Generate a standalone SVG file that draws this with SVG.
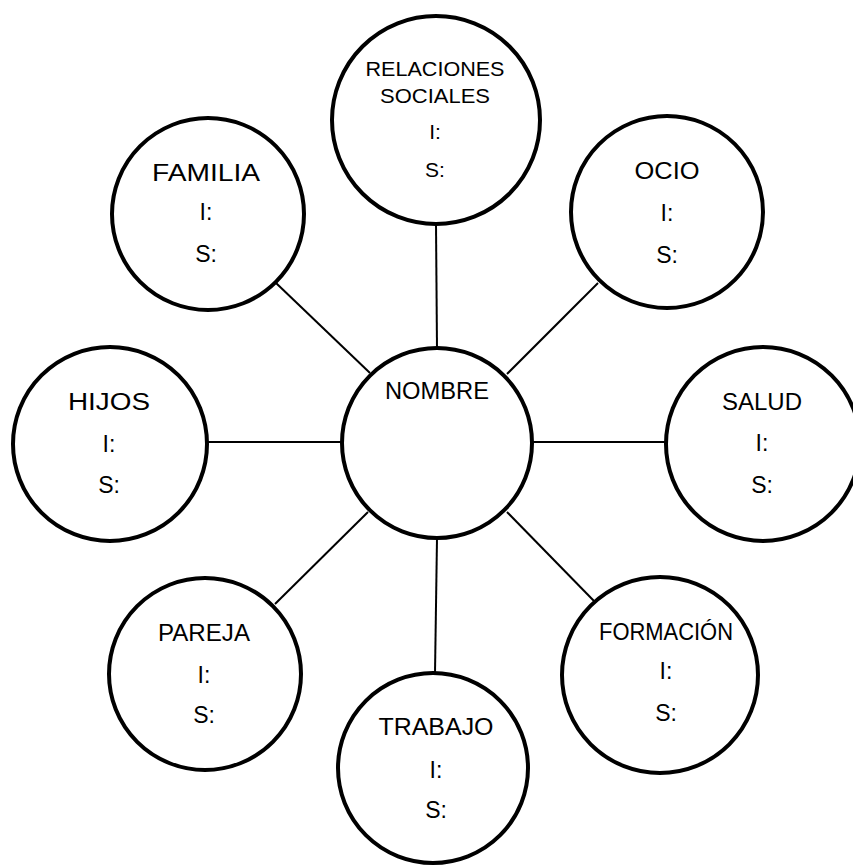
<svg xmlns="http://www.w3.org/2000/svg" width="853" height="868" viewBox="0 0 853 868">
  <style>
    .node circle { fill: #ffffff; stroke: #000000; stroke-width: 4; }
    .links line { stroke: #000000; stroke-width: 2; }
    text { font-family: "Comic Sans MS", "Liberation Sans", "DejaVu Sans", sans-serif; font-size: 23px; fill: #000000; text-anchor: middle; }
    .small { font-size: 21px; }
  </style>
  <rect width="853" height="868" fill="#ffffff"/>

  <!-- spokes from the centre to each surrounding circle -->
  <g id="connectors" class="links">
    <line x1="436" y1="224" x2="437" y2="348"/>
    <line x1="276" y1="283" x2="370" y2="373"/>
    <line x1="598" y1="283" x2="507" y2="374"/>
    <line x1="207" y1="442" x2="342" y2="442"/>
    <line x1="532" y1="442" x2="666" y2="442"/>
    <line x1="275" y1="604" x2="368" y2="512"/>
    <line x1="507" y1="512" x2="594" y2="601"/>
    <line x1="437" y1="538" x2="435" y2="673"/>
  </g>

  <g id="nombre" class="node">
    <circle cx="437" cy="443" r="95"/>
    <text x="437" y="399" textLength="104" lengthAdjust="spacingAndGlyphs">NOMBRE</text>
  </g>

  <g id="relaciones-sociales" class="node">
    <circle cx="436" cy="120" r="104"/>
    <text class="small" x="435" y="76" textLength="139" lengthAdjust="spacingAndGlyphs">RELACIONES</text>
    <text class="small" x="435" y="103" textLength="110" lengthAdjust="spacingAndGlyphs">SOCIALES</text>
    <text class="small" x="435" y="139">I:</text>
    <text class="small" x="435" y="177">S:</text>
  </g>

  <g id="familia" class="node">
    <circle cx="208" cy="214" r="96"/>
    <text x="206" y="181" textLength="108" lengthAdjust="spacingAndGlyphs">FAMILIA</text>
    <text x="206" y="220">I:</text>
    <text x="206" y="262">S:</text>
  </g>

  <g id="ocio" class="node">
    <circle cx="667" cy="212" r="96"/>
    <text x="667" y="179" textLength="65" lengthAdjust="spacingAndGlyphs">OCIO</text>
    <text x="667" y="221">I:</text>
    <text x="667" y="263">S:</text>
  </g>

  <g id="hijos" class="node">
    <circle cx="110" cy="444" r="97"/>
    <text x="109" y="410" textLength="82" lengthAdjust="spacingAndGlyphs">HIJOS</text>
    <text x="109" y="452">I:</text>
    <text x="109" y="493">S:</text>
  </g>

  <g id="salud" class="node">
    <circle cx="763" cy="444" r="97"/>
    <text x="762" y="410" textLength="80" lengthAdjust="spacingAndGlyphs">SALUD</text>
    <text x="762" y="451">I:</text>
    <text x="762" y="493">S:</text>
  </g>

  <g id="pareja" class="node">
    <circle cx="205" cy="674" r="96"/>
    <text x="204" y="641" textLength="92" lengthAdjust="spacingAndGlyphs">PAREJA</text>
    <text x="204" y="683">I:</text>
    <text x="204" y="723">S:</text>
  </g>

  <g id="formacion" class="node">
    <circle cx="660" cy="675" r="98"/>
    <text x="666" y="640" textLength="134" lengthAdjust="spacingAndGlyphs">FORMACIÓN</text>
    <text x="666" y="679">I:</text>
    <text x="666" y="721">S:</text>
  </g>

  <g id="trabajo" class="node">
    <circle cx="433" cy="768" r="95"/>
    <text x="436" y="735" textLength="115" lengthAdjust="spacingAndGlyphs">TRABAJO</text>
    <text x="436" y="778">I:</text>
    <text x="436" y="818">S:</text>
  </g>
</svg>
